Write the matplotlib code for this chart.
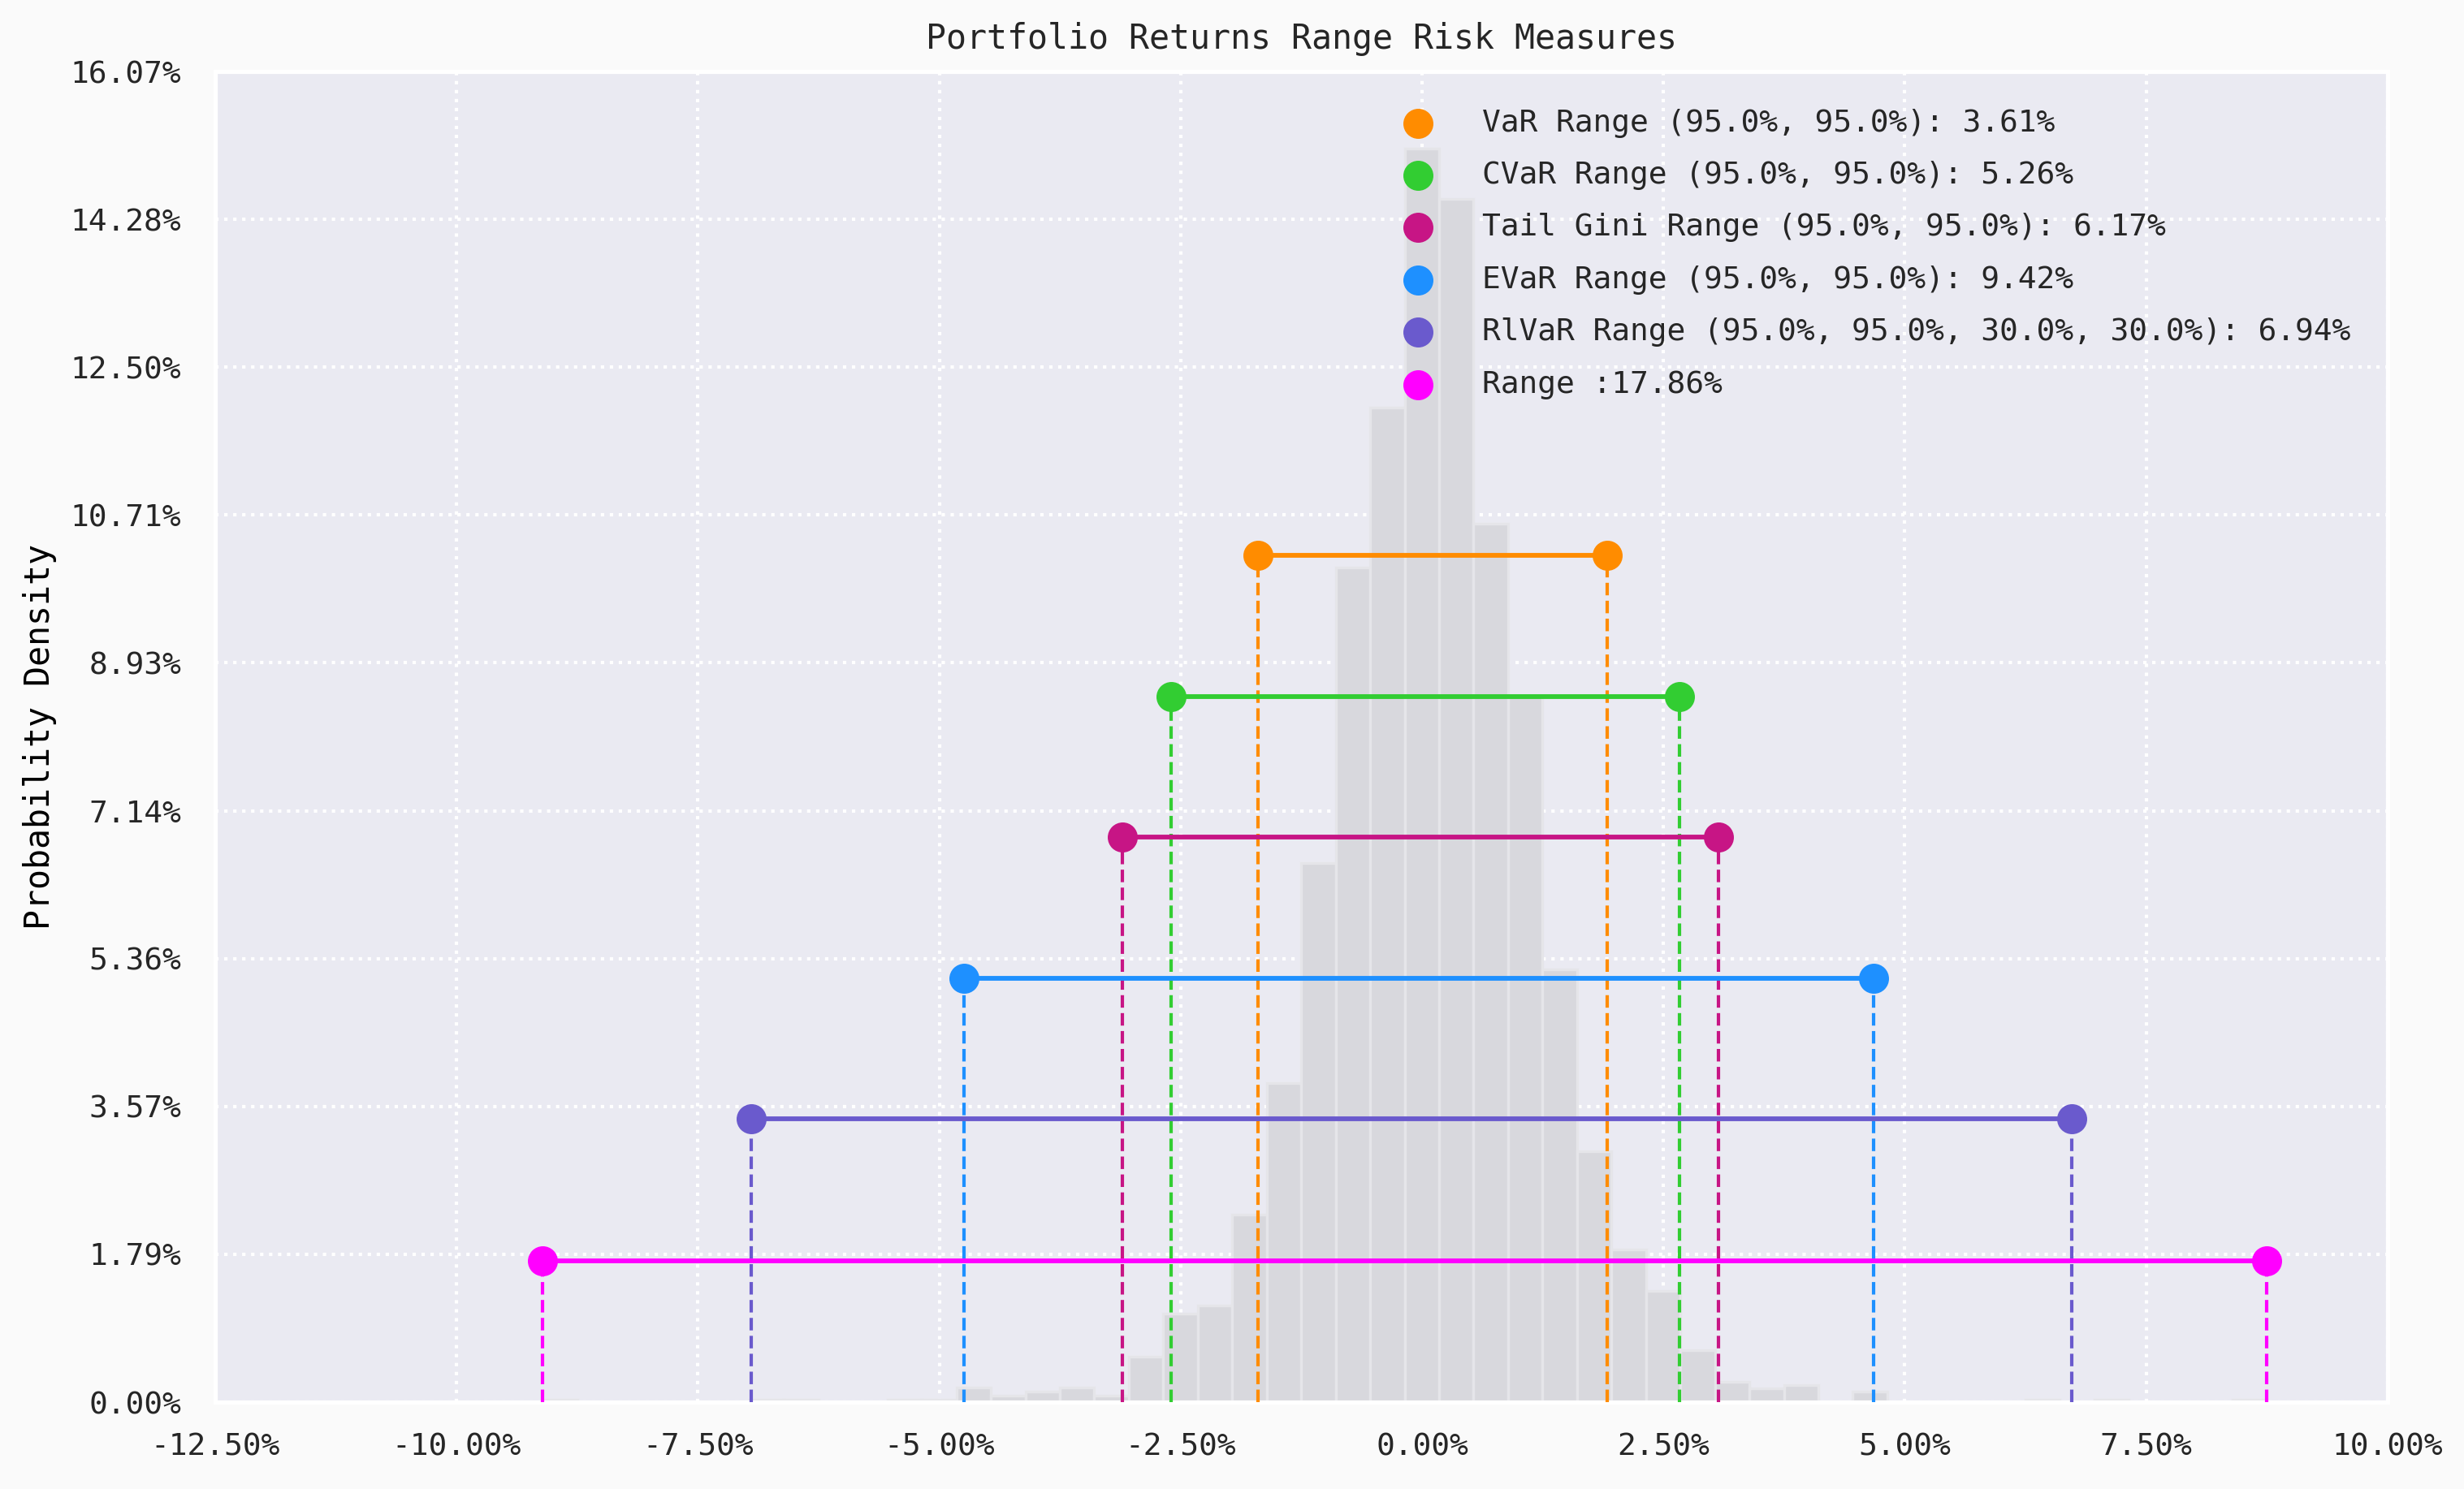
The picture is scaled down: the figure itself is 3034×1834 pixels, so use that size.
import numpy as np
import matplotlib
matplotlib.use("Agg")
import matplotlib.pyplot as plt
from matplotlib.ticker import FuncFormatter

# returns histogram (50 bins between min and max return), relative frequency in %
ret_min = -9.108
ret_max = 8.747
freq = [0.03, 0, 0, 0, 0, 0, 0.03, 0.03, 0, 0,
        0.03, 0.03, 0.18, 0.08, 0.13, 0.18, 0.08, 0.55, 1.07, 1.17,
        2.27, 3.85, 6.51, 10.08, 12.01, 15.14, 14.53, 10.61, 8.53, 5.23,
        3.03, 1.84, 1.34, 0.63, 0.25, 0.17, 0.21, 0, 0.13, 0,
        0, 0, 0, 0.03, 0, 0.03, 0, 0, 0, 0.03]

# range measures: left / right bounds (%), height of the bar drawn (%)
labels = ["VaR Range (95.0%, 95.0%): 3.61%",
          "CVaR Range (95.0%, 95.0%): 5.26%",
          "Tail Gini Range (95.0%, 95.0%): 6.17%",
          "EVaR Range (95.0%, 95.0%): 9.42%",
          "RlVaR Range (95.0%, 95.0%, 30.0%, 30.0%): 6.94%",
          "Range :17.86%"]
lows = [-1.696, -2.599, -3.105, -4.746, -6.946, -9.108]
highs = [1.916, 2.665, 3.067, 4.676, 6.726, 8.747]
levels = [10.23, 8.52, 6.82, 5.12, 3.42, 1.71]
colors = ["darkorange", "limegreen", "mediumvioletred", "dodgerblue",
          "slateblue", "fuchsia"]

xticks = [-12.5, -10, -7.5, -5, -2.5, 0, 2.5, 5, 7.5, 10]
ymax = 16.07

plt.rcParams['font.family'] = ['DejaVu Sans Mono', 'DejaVu Sans']
plt.rcParams['text.color'] = '#262626'

fig = plt.figure(figsize=(3034 / 300, 1834 / 300), dpi=300, facecolor='#fafafa')
ax = fig.add_axes([0.0873, 0.0583, 0.9690 - 0.0873, 0.9520 - 0.0583])
ax.set_facecolor('#eaeaf2')
for s in ax.spines.values():
    s.set_color('white')
    s.set_linewidth(1.25)

edges = np.linspace(ret_min, ret_max, len(freq) + 1)
ax.bar(edges[:-1], freq, width=np.diff(edges), align='edge',
       color='#d8d8dd', edgecolor='#e5e5e9', linewidth=0.8, zorder=2)

for lab, lo, hi, h, c in zip(labels, lows, highs, levels, colors):
    ax.hlines(h, lo, hi, color=c, linewidth=1.4, zorder=3)
    ax.vlines([lo, hi], 0, h, color=c, linewidth=1, linestyle='--', zorder=3)
    ax.scatter([lo, hi], [h, h], s=62, color=c, label=lab, zorder=4)

ax.set_xlim(-12.5, 10)
ax.set_ylim(0, ymax)
ax.set_xticks(xticks)
ax.set_yticks(np.linspace(0, ymax, 10))
ax.xaxis.set_major_formatter(FuncFormatter(lambda v, p: '{:.2f}%'.format(v)))
ax.yaxis.set_major_formatter(FuncFormatter(lambda v, p: '{:.2f}%'.format(v)))
ax.tick_params(axis='both', length=0, labelsize=9.1, labelcolor='#262626')
ax.tick_params(axis='y', pad=10)
ax.tick_params(axis='x', pad=9)
ax.grid(True, color='white', linestyle=':', linewidth=1, zorder=0)
ax.set_axisbelow(True)

ax.set_title("Portfolio Returns Range Risk Measures", fontsize=10, pad=6.8)
ax.set_ylabel("Probability Density", fontsize=10, labelpad=4)

ax.legend(loc='upper right', frameon=False, fontsize=9.1, scatterpoints=1,
          handletextpad=1.1, labelspacing=0.75, borderaxespad=0.8)

fig.savefig("out.png", dpi=300, facecolor=fig.get_facecolor())
